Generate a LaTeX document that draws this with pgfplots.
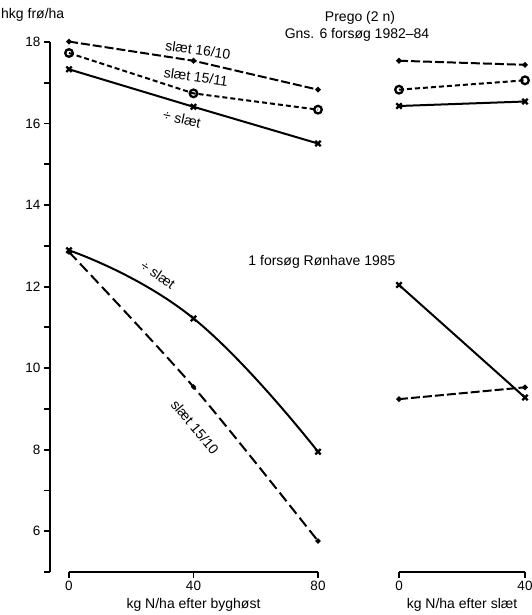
\documentclass[border=0pt]{standalone}
\usepackage{fontspec}
\setmainfont{Liberation Sans}
\usepackage{pgfplots}
\pgfplotsset{compat=1.18}
\begin{document}
\begin{tikzpicture}[x=1pt,y=1pt]
\path[use as bounding box] (0,0) rectangle (532,615);
\pgfplotsset{
  common/.style={scale only axis, height=530pt, ymin=5, ymax=18, clip=false,
   /pgf/number format/assume math mode=true,
   tick label style={font=\fontsize{13.5}{15}\selectfont},
   label style={font=\fontsize{14}{16}\selectfont},
   axis line style={line width=2pt},
   every tick/.style={line width=1.8pt, black},
   major tick length=6pt, minor tick length=6pt, tick align=outside},
  sol/.style={line width=2pt, black, mark=x, mark size=3.8pt, mark options={solid, line width=2.3pt}},
  circ/.style={line width=2pt, black, dash pattern=on 5pt off 3pt, mark=o, mark size=3.8pt, mark options={solid, line width=2.3pt, fill=white}},
  dotd/.style={line width=2pt, black, dash pattern=on 9pt off 3pt, mark=*, mark size=1.6pt, mark options={solid}},
}
\begin{axis}[common, at={(50pt,43pt)}, anchor=south west, width=10pt, xmin=0, xmax=1,
  axis x line=none, axis y line*=left, ytick={6,8,...,18}, minor ytick={5,7,...,17}]
\end{axis}
\begin{axis}[common, at={(69pt,43pt)}, anchor=south west, width=249pt, xmin=0, xmax=80,
  axis y line=none, axis x line*=bottom, xtick={0,40,80}, xlabel={kg N/ha efter byghøst}]
\addplot[dotd] coordinates {(0,18.01)(40,17.54)(80,16.83)};
\addplot[circ] coordinates {(0,17.73)(40,16.74)(80,16.34)};
\addplot[sol] coordinates {(0,17.33)(40,16.41)(80,15.51)};
\addplot[sol, smooth, tension=0.8] coordinates {(0,12.89)(40,11.22)(80,7.95)};
\addplot[dotd, smooth, dash pattern=on 11pt off 5pt, mark size=1.4pt] coordinates {(0,12.85)(40,9.54)(80,5.76)};
\end{axis}
\begin{axis}[common, at={(399pt,43pt)}, anchor=south west, width=126pt, xmin=0, xmax=40,
  axis y line=none, axis x line*=bottom, xtick={0,40}, xlabel={kg N/ha efter slæt}]
\addplot[dotd] coordinates {(0,17.54)(40,17.44)};
\addplot[circ] coordinates {(0,16.83)(40,17.06)};
\addplot[sol] coordinates {(0,16.43)(40,16.54)};
\addplot[sol] coordinates {(0,12.04)(40,9.28)};
\addplot[dotd] coordinates {(0,9.24)(40,9.53)};
\end{axis}
\begin{scope}[every node/.style={font=\fontsize{14}{16}\selectfont, inner sep=0pt}]
\node[anchor=west] at (1,600) {hkg frø/ha};
\node at (360,597) {Prego (2 n)};
\node at (357,580) {Gns. 6 forsøg 1982–84};
\node at (322,353) {1 forsøg Rønhave 1985};
\node[rotate=-8] at (198,565) {slæt 16/10};
\node[rotate=-8] at (196,538) {slæt 15/11};
\node[rotate=-12] at (182,496) {÷ slæt};
\node[rotate=-34] at (158,340) {÷ slæt};
\node[rotate=-50] at (195,188) {slæt 15/10};
\end{scope}
\end{tikzpicture}
\end{document}
